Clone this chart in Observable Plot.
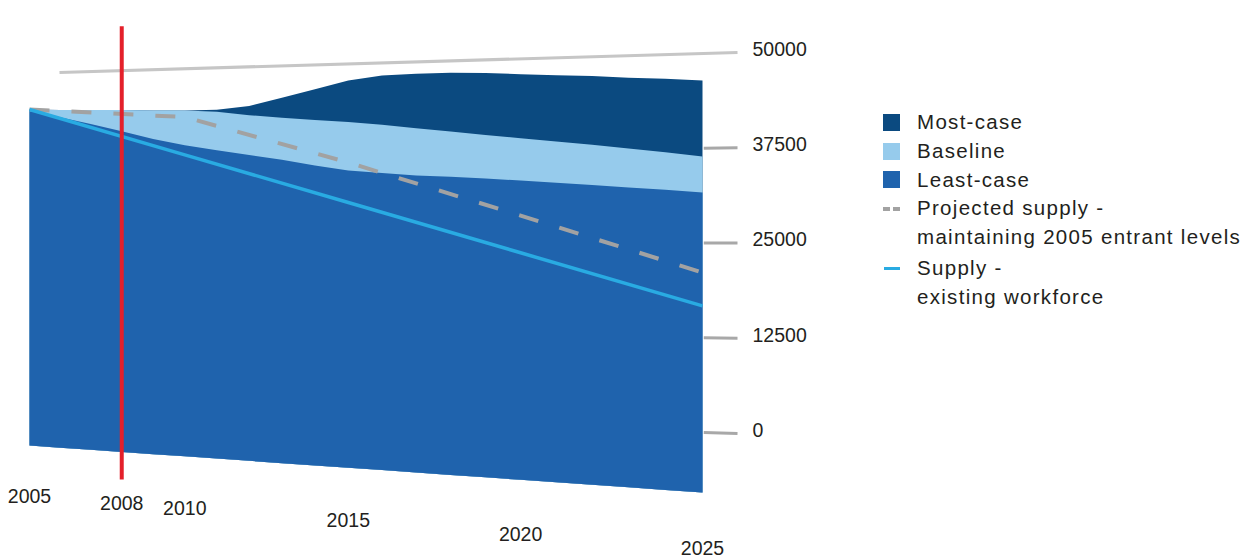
<!DOCTYPE html>
<html>
<head>
<meta charset="utf-8">
<script src="https://cdn.jsdelivr.net/npm/d3@7"></script>
<script src="https://cdn.jsdelivr.net/npm/@observablehq/plot@0.6"></script>
<style>
  body { margin: 0; background: #fff; font-family: "Liberation Sans", Arial, sans-serif; color: #231f20; }
  #wrap { position: relative; width: 1242px; height: 560px; overflow: hidden; }
  #chart { position: absolute; left: 0; top: 0; width: 860px; height: 560px; }
  #chart svg { position: absolute; left: 0; top: 0; }
  #legend { position: absolute; left: 883px; top: 108px; font-size: 20.5px; letter-spacing: 1.3px; line-height: 28.8px; }
  .row { display: flex; align-items: center; height: 28.8px; white-space: nowrap; }
  .key { width: 17px; flex: none; margin-right: 17px; display: flex; align-items: center; }
  .sw { width: 17px; height: 17px; }
  .dash { display: flex; gap: 3px; }
  .dash i { display: block; width: 7px; height: 4px; }
  .cont { padding-left: 34px; }
</style>
</head>
<body>
<div id="wrap">
  <div id="chart"></div>
  <div id="legend"></div>
</div>
<script>
// ---------- data ----------
const years = [2005, 2006, 2007, 2008, 2009, 2010, 2011, 2012, 2013, 2014, 2015,
               2016, 2017, 2018, 2019, 2020, 2021, 2022, 2023, 2024, 2025];
const mostCase  = [42000, 42000, 42050, 42100, 42100, 42150, 42300, 42800, 43850, 44900, 46000,
                   46600, 46850, 47000, 47000, 46900, 46800, 46750, 46600, 46500, 46350];
const baseline  = [42000, 42000, 42050, 42100, 42100, 42150, 42050, 41700, 41450, 41250, 41050,
                   40800, 40450, 40150, 39800, 39500, 39200, 38900, 38550, 38200, 37800];
const leastCase = [42000, 41100, 40300, 39500, 38600, 37900, 37400, 36900, 36400, 35800, 35300,
                   35100, 34900, 34850, 34750, 34600, 34450, 34300, 34100, 33950, 33750];

const supplyYears      = [2005, 2010, 2015, 2020, 2025];
const projectedSupply  = [42000, 41350, 36250, 30550, 24750]; // maintaining 2005 entrant levels
const existingSupply   = [42000, 36750, 31500, 26250, 21000]; // existing workforce

const yearTickLabels = [2005, 2008, 2010, 2015, 2020, 2025];
const valueTicks     = [0, 12500, 25000, 37500];
const gridValue      = 50000;
const markerYear     = 2008;

const seriesNames = ["Most-case", "Baseline", "Least-case"];
const colors = { most: "#0b4a80", baseline: "#96cbec", least: "#1f63ad",
                 projected: "#a2a2a2", existing: "#29abe2", marker: "#e4202a",
                 grid: "#c6c6c6", tick: "#a8a8a8", text: "#231f20" };

// ---------- perspective planes (layout settings) ----------
const frontPlane = { year0: 2005, year1: 2025, x0: 29, width: 673, base0: 445, base1: 492, k: 0.9, pxPerUnit: 0.008 };
const backWall   = { year0: 2005, year1: 2025, x0: 59, width: 678, base0: 414.9, base1: 433, k: 0.9, pxPerUnit: 0.006858 };
const yearLabelOffset = -6350;          // value units below the floor of the front plane
const markerExtent = [-3400, 52400];    // vertical extent of the 2008 marker on the front plane
const tickStartYear = 2024.1;           // outward tick dashes at the right edge of the back wall

function planeProjection(p) {
  return d3.geoTransform({
    point(t, v) {
      const s = (t - p.year0) / (p.year1 - p.year0);
      const w = 1 - (1 - p.k) * s;
      const u = p.k * s / w;
      const x = p.x0 + p.width * u;
      const yb = p.base0 + (p.base1 - p.base0) * u;
      this.stream.point(x, yb - v * p.pxPerUnit / w);
    }
  });
}

function areaFeature(vals) {
  const top = years.map((t, i) => [t, vals[i]]);
  const bottom = years.map(t => [t, 0]).reverse();
  return { type: "Feature", properties: {}, geometry: { type: "Polygon", coordinates: [[...top, ...bottom, top[0]]] } };
}

const projRows  = supplyYears.map((t, i) => ({ t, v: projectedSupply[i] }));
const existRows = supplyYears.map((t, i) => ({ t, v: existingSupply[i] }));
const markerRows = markerExtent.map(v => ({ t: markerYear, v }));

const fontFamily = '"Liberation Sans", Arial, sans-serif';

// back wall: 50000 gridline, tick dashes and value labels
const gridRows = [{ t: backWall.year0, v: gridValue }, { t: backWall.year1, v: gridValue }];
const tickRows = valueTicks.flatMap(v => [{ t: tickStartYear, v }, { t: backWall.year1, v }]);
const tickLabelRows = [...valueTicks, gridValue].map(v => ({ t: backWall.year1, v }));

const back = Plot.plot({
  width: 860, height: 560,
  projection: planeProjection(backWall),
  style: { background: "transparent", fontFamily, overflow: "visible" },
  marks: [
    Plot.line(gridRows, { x: "t", y: "v", stroke: colors.grid, strokeWidth: 3.2, strokeLinecap: "butt" }),
    Plot.line(tickRows, { x: "t", y: "v", z: "v", stroke: colors.tick, strokeWidth: 3, strokeLinecap: "butt" }),
    Plot.text(tickLabelRows, { x: "t", y: "v", text: d => String(d.v), textAnchor: "start", dx: 15, dy: -3,
                               fontSize: 19.5, fill: colors.text })
  ]
});

const front = Plot.plot({
  width: 860, height: 560,
  projection: planeProjection(frontPlane),
  style: { background: "transparent", fontFamily, overflow: "visible" },
  marks: [
    Plot.geo([areaFeature(mostCase)], { fill: colors.most }),
    Plot.geo([areaFeature(baseline)], { fill: colors.baseline }),
    Plot.geo([areaFeature(leastCase)], { fill: colors.least }),
    Plot.line(projRows, { x: "t", y: "v", stroke: colors.projected, strokeWidth: 4, strokeDasharray: "20,22", strokeLinecap: "butt" }),
    Plot.line(existRows, { x: "t", y: "v", stroke: colors.existing, strokeWidth: 3.5, strokeLinecap: "butt" }),
    Plot.line(markerRows, { x: "t", y: "v", stroke: colors.marker, strokeWidth: 4, strokeLinecap: "butt" }),
    Plot.text(yearTickLabels, { x: d => d, y: () => yearLabelOffset, text: d => String(d), fontSize: 19.5, fill: colors.text })
  ]
});

const chart = document.getElementById("chart");
chart.appendChild(back);
chart.appendChild(front);

// ---------- legend ----------
const legend = document.getElementById("legend");
const items = [
  { kind: "square", color: colors.most, lines: [seriesNames[0]] },
  { kind: "square", color: colors.baseline, lines: [seriesNames[1]] },
  { kind: "square", color: colors.least, lines: [seriesNames[2]] },
  { kind: "dash", color: colors.projected, lines: ["Projected supply -", "maintaining 2005 entrant levels"] },
  { kind: "line", color: colors.existing, lines: ["Supply -", "existing workforce"] }
];
items.forEach((it, idx) => {
  it.lines.forEach((txt, j) => {
    const row = document.createElement("div");
    row.className = "row" + (j > 0 ? " cont" : "");
    if (idx === 4 && j === 0) row.style.marginTop = "2px";
    if (j === 0) {
      const key = document.createElement("span");
      key.className = "key";
      if (it.kind === "square") {
        key.innerHTML = `<span class="sw" style="background:${it.color}"></span>`;
      } else if (it.kind === "dash") {
        key.innerHTML = `<span class="dash"><i style="background:${it.color}"></i><i style="background:${it.color}"></i></span>`;
      } else {
        key.innerHTML = `<span style="display:block;width:16px;height:3.5px;margin-left:1px;background:${it.color}"></span>`;
      }
      row.appendChild(key);
    }
    const span = document.createElement("span");
    span.textContent = txt;
    row.appendChild(span);
    legend.appendChild(row);
  });
});
</script>
</body>
</html>
